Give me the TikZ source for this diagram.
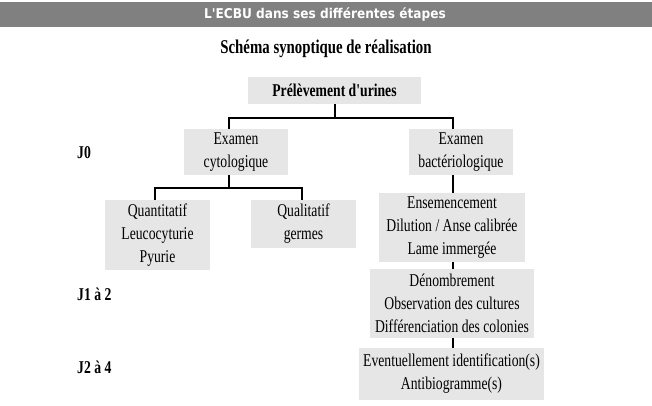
\documentclass[tikz,border=0pt]{standalone}
\usepackage{fontspec}
\setmainfont{Liberation Serif}
\newfontfamily\tnr[FakeStretch=0.76]{Liberation Serif}
\newfontfamily\hdr[FakeStretch=0.9]{DejaVu Sans}
\begin{document}
\begin{tikzpicture}[x=1pt,y=-1pt,
  box/.style={inner sep=0pt, font=\tnr\fontsize{18}{23}\selectfont, align=center},
  lab/.style={font=\tnr\bfseries\fontsize{18}{18}\selectfont, anchor=west, inner sep=0pt},
  conn/.style={line width=1.2pt, black}]
\definecolor{boxgray}{HTML}{E6E6E6}
\definecolor{bargray}{HTML}{808080}
\useasboundingbox (0,0) rectangle (652,406);
\fill[white] (0,0) rectangle (652,406);
\fill[bargray] (0,2) rectangle (652,27);
\node[text=white, font=\hdr\bfseries\fontsize{13.5}{15}\selectfont, inner sep=0pt] (title) at (325,14.5) {L'ECBU dans ses différentes étapes};
\node[font=\tnr\bfseries\fontsize{19.5}{20}\selectfont, inner sep=0pt] (sub) at (326,49) {Schéma synoptique de réalisation};

\fill[boxgray] (248,77) rectangle (421,104);
\node[box, font=\tnr\bfseries\fontsize{18}{18}\selectfont] (prel) at (334.5,90.5) {Prélèvement d'urines};
\coordinate (prelB) at (335,104);

\fill[boxgray] (184,129) rectangle (288,175);
\node[box] (cyto) at (236,152) {Examen\\cytologique};
\fill[boxgray] (409,129) rectangle (513,175);
\node[box] (bact) at (461,152) {Examen\\bactériologique};

\fill[boxgray] (105,200) rectangle (210,270);
\node[box] (quant) at (157.5,235) {Quantitatif\\Leucocyturie\\Pyurie};
\fill[boxgray] (251,200) rectangle (356,248);
\node[box] (qual) at (303.5,224) {Qualitatif\\germes};

\fill[boxgray] (379,193) rectangle (525,262);
\node[box] (ens) at (452,227.5) {Ensemencement\\Dilution / Anse calibrée\\Lame immergée};
\fill[boxgray] (370,269) rectangle (534,338);
\node[box] (denom) at (452,303.5) {Dénombrement\\Observation des cultures\\Différenciation des colonies};
\fill[boxgray] (359,348) rectangle (544,400);
\node[box] (event) at (451.5,374) {Eventuellement identification(s)\\Antibiogramme(s)};

\coordinate (cytoT) at (229,129);
\coordinate (bactT) at (453,129);
\coordinate (cytoB) at (229,175);
\coordinate (quantT) at (155,200);
\coordinate (qualT) at (302,200);
\coordinate (bactB) at (453,175);
\coordinate (ensT) at (453,193);
\coordinate (ensB) at (453,262);
\coordinate (denT) at (453,269);
\coordinate (denB) at (453,338);
\coordinate (evT) at (453,348);

\draw[conn] (prelB) -- (335,118) -| (cytoT);
\draw[conn] (335,118) -| (bactT);
\draw[conn] (cytoB) -- (229,188) -| (quantT);
\draw[conn] (229,188) -| (qualT);
\draw[conn] (bactB) -- (ensT);
\draw[conn] (ensB) -- (denT);
\draw[conn] (denB) -- (evT);

\node[lab] (j0) at (77,153) {J0};
\node[lab] (j1) at (77,294) {J1 à 2};
\node[lab] (j2) at (77,367) {J2 à 4};
\end{tikzpicture}
\end{document}
